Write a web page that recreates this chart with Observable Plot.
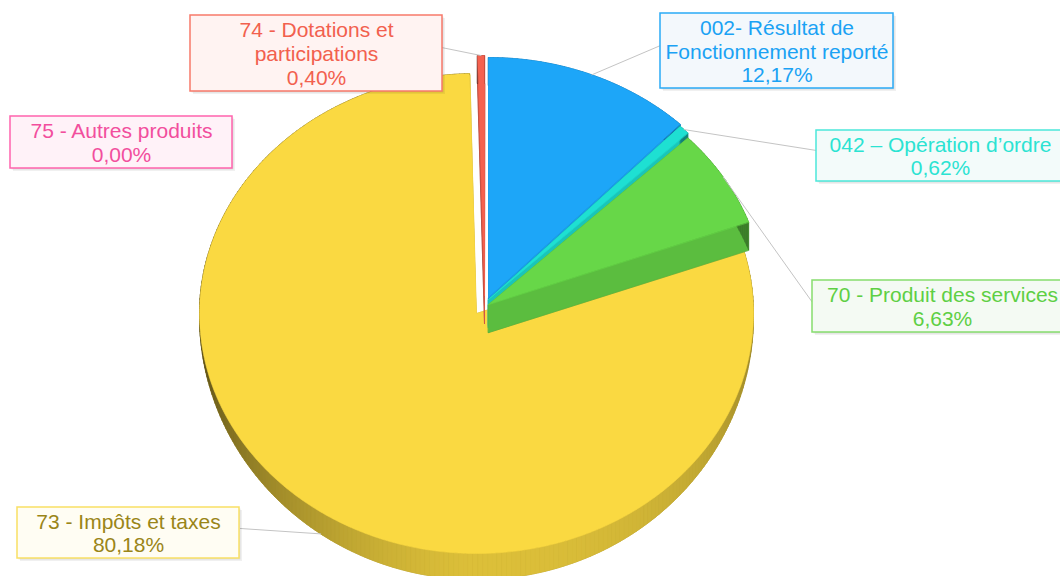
<!DOCTYPE html>
<html><head><meta charset="utf-8">
<script src="https://cdn.jsdelivr.net/npm/d3@7"></script>
<script src="https://cdn.jsdelivr.net/npm/@observablehq/plot@0.6"></script>
<style>body{margin:0;background:#fff;overflow:hidden}</style>
</head><body><div id="chart"></div>
<script>
// ---- data ----
const categories = ["74 - Dotations et\nparticipations", "002- Résultat de\nFonctionnement reporté", "042 – Opération d’ordre", "70 - Produit des services", "73 - Impôts et taxes", "75 - Autres produits"];
const values = [0.40, 12.17, 0.62, 6.63, 80.18, 0.00];

// ---- styles / layout ----
const sliceColors = ["#F5614F", "#1DA6F8", "#1EE0D2", "#67D748", "#FAD941", "#FF4FA0"];
const textColors  = ["#F2604E", "#1AA2F4", "#2BE3D2", "#5ECF44", "#9A8518", "#F24E9D"];
const boxFills    = ["#FFF3F2", "#F3F8FC", "#F3FBFA", "#F4FAF3", "#FFFDF3", "#FFF2F8"];
const boxStrokes  = ["#F7796A", "#2AAAF6", "#4CE8DA", "#86DD6E", "#F9DF64", "#FF63AD"];
const explodeOffsets = [[6,-16],[10,-14],[10,-12],[10,-7],[-2,2],[0,0]];
const labelBoxes  = [[190,15,442,91],[660,13,893,88],[816,130,1064,181],[812,280,1072,332],[17,507,239,558],[10,116,232,168]];
const leaderEnds  = [[441,47],[660,45],[816,150],[812,302],[240,528],null];
const drawOrder   = [4, 5, 0, 1, 2, 3];

const W = 1060, H = 576, cx = 478, cy = 311, rx = 277, ry = 240;
const total = d3.sum(values);
const rad = d => d * Math.PI / 180;

let acc = -values[0] / total * 360;
const slices = values.map((v, i) => {
  const a0 = acc, a1 = acc + v / total * 360; acc = a1;
  return {i, a0, a1, mid: (a0 + a1) / 2};
});
// thickness of the extruded side, thinner towards the left/right edges for the big slice
function depthAt(s, deg) {
  if (s.i !== 4) return 28;
  const c = -Math.cos(rad(deg));
  return 26 * Math.max(0.05, Math.min(1, (c + 0.12) / 1.12));
}
function off(s) { return explodeOffsets[s.i]; }
function pt(s, deg, down = false, k = 1) { const [ox, oy] = off(s), t = rad(deg); return [cx + ox + k * rx * Math.sin(t), cy + oy - k * ry * Math.cos(t) + (down ? depthAt(s, deg) : 0)]; }
function apex(s, down = false) { const [ox, oy] = off(s); return [cx + ox, cy + oy + (down ? (s.i === 4 ? 14 : 28) : 0)]; }
function arc(s, down = false) { const n = Math.max(2, Math.ceil((s.a1 - s.a0) / 0.5)); return d3.range(n + 1).map(j => pt(s, s.a0 + (s.a1 - s.a0) * j / n, down)); }
function dark(c, k) { return d3.interpolateRgb(c, "#000")(k); }
function shadeAt(deg) {
  const d = ((deg % 360) + 360) % 360;
  const left = Math.max(0, (d - 180) / 90), right = Math.max(0, (180 - d) / 90);
  return 0.12 + 0.6 * Math.pow(Math.min(left, 1), 1.4) + 0.3 * Math.pow(Math.min(right, 1), 2);
}

const polys = [];
let pid = 0;
function add(points, fill) { const id = pid++; points.forEach(([x, y]) => polys.push({id, x, y, fill})); }
for (const i of drawOrder) {
  const s = slices[i];
  if (values[i] <= 0) continue;
  const c = sliceColors[i];
  add([apex(s, true), ...arc(s, true)], dark(c, 0.3));
  add([apex(s), pt(s, s.a0), pt(s, s.a0, true), apex(s, true)], dark(c, 0.22));
  add([apex(s), pt(s, s.a1), pt(s, s.a1, true), apex(s, true)], dark(c, 0.12));
  const n = Math.max(1, Math.ceil(s.a1 - s.a0));
  for (let j = 0; j < n; j++) {
    const t0 = s.a0 + (s.a1 - s.a0) * j / n, t1 = s.a0 + (s.a1 - s.a0) * (j + 1) / n;
    add([pt(s, t0), pt(s, t1), pt(s, t1, true), pt(s, t0, true)], dark(c, shadeAt((t0 + t1) / 2)));
  }
  add([apex(s), ...arc(s)], c);
}

// leader lines: from label anchor to slice edge
const leaders = [];
slices.forEach(s => {
  const e = leaderEnds[s.i]; if (!e) return;
  const p = s.i === 4 ? pt(s, s.mid, true, 1) : pt(s, s.mid, false, 1);
  leaders.push({id: s.i, x: e[0], y: e[1]}, {id: s.i, x: p[0], y: p[1]});
});

const fmt = v => d3.format(".2f")(v).replace(".", ",") + "%";
const labels = categories.map((c, i) => {
  const b = labelBoxes[i];
  return {i, x1: b[0], y1: b[1], x2: b[2], y2: b[3], cx: (b[0] + b[2]) / 2, cy: (b[1] + b[3]) / 2,
    text: c + "\n" + fmt(values[i]), color: textColors[i], fill: boxFills[i], stroke: boxStrokes[i]};
});

const chart = Plot.plot({
  width: W, height: H, margin: 0,
  x: {domain: [0, W], range: [0, W], axis: null},
  y: {domain: [0, H], range: [0, H], axis: null},
  color: {type: "identity"},
  style: {background: "#fff", fontFamily: "'Liberation Sans', Arial, sans-serif"},
  marks: [
    Plot.line(polys, {x: "x", y: "y", z: "id", fill: "fill", stroke: "fill", strokeWidth: 0.6, curve: "linear-closed"}),
    Plot.line(leaders, {x: "x", y: "y", z: "id", stroke: "#C4C4C4", strokeWidth: 1}),
    Plot.rect(labels, {x1: d => d.x1 + 3, x2: d => d.x2 + 3, y1: d => d.y1 + 3, y2: d => d.y2 + 3, fill: "#000", fillOpacity: 0.06}),
    Plot.rect(labels, {x1: d => d.x1 + 1.5, x2: d => d.x2 + 1.5, y1: d => d.y1 + 1.5, y2: d => d.y2 + 1.5, fill: "#000", fillOpacity: 0.08}),
    Plot.rect(labels, {x1: "x1", x2: "x2", y1: "y1", y2: "y2", fill: "fill", stroke: "stroke", strokeWidth: 1.5}),
    Plot.text(labels, {x: "cx", y: "cy", text: "text", fill: "color", fontSize: 21, lineHeight: 1.13, lineAnchor: "middle", textAnchor: "middle"})
  ]
});
document.getElementById("chart").appendChild(chart);
</script>
</body></html>
